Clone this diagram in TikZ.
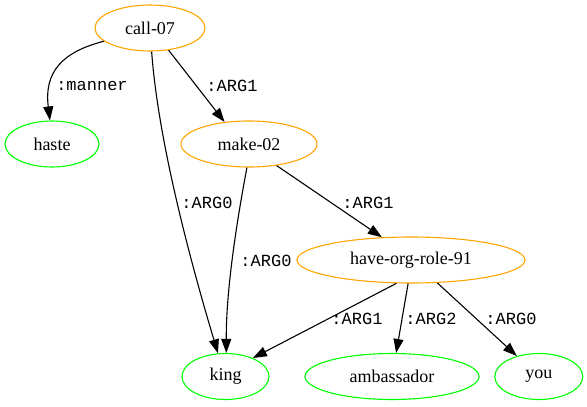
\documentclass[tikz,border=0pt]{standalone}
\usepackage{fontspec}
\setmainfont{Liberation Serif}
\newfontfamily\labelfont{Liberation Mono}
\usetikzlibrary{shapes.geometric,arrows.meta}
\definecolor{gvorange}{RGB}{255,165,0}
\definecolor{gvgreen}{RGB}{0,255,0}
\tikzset{
  concept/.style={ellipse, draw=#1, line width=1.1pt, inner sep=0pt,
    minimum height=46pt, font=\fontsize{18pt}{20pt}\selectfont},
  edge/.style={draw=black, line width=1.1pt,
    -{Triangle[length=14pt,width=10pt]}},
  role/.style={font=\labelfont\fontsize{17pt}{19pt}\selectfont, inner sep=0pt}
}
\begin{document}
\begin{tikzpicture}[x=1pt,y=-1pt]
\useasboundingbox (0,0) rectangle (587,407);

% concepts
\node[concept=gvorange, minimum width=110pt] (call) at (150,28) {call-07};
\node[concept=gvgreen,  minimum width=94pt]  (haste) at (52,144) {haste};
\node[concept=gvorange, minimum width=136pt] (make) at (249,144) {make-02};
\node[concept=gvorange, minimum width=228pt] (have) at (411,260) {have-org-role-91};
\node[concept=gvgreen,  minimum width=87pt]  (king) at (225.5,376.5) {king};
\node[concept=gvgreen,  minimum width=174pt] (amb) at (392,376.5) {ambassador};
\node[concept=gvgreen,  minimum width=88pt]  (you) at (538.8,376.5) {you};

% relations
\draw[edge] (call.196) .. controls (62,52) and (44,72) .. (haste.95);
\draw[edge] (call.-50) -- (make.138);
\draw[edge] (call.-86) .. controls (158,140) and (190,260) .. (king.108);
\draw[edge] (make.-95) .. controls (237,220) and (226,290) .. (king.88);
\draw[edge] (make.-38) -- (have.142);
\draw[edge] (have.-122) -- (king.34);
\draw[edge] (have.-97) -- (amb.80);
\draw[edge] (have.-41) -- (you.137);

% role labels
\node[role] (l1) at (92,86) {:manner};
\node[role] (l2) at (232,86) {:ARG1};
\node[role] (l3) at (207,203) {:ARG0};
\node[role] (l4) at (266,261) {:ARG0};
\node[role] (l5) at (368,203) {:ARG1};
\node[role] (l6) at (357,319) {:ARG1};
\node[role] (l7) at (431,319) {:ARG2};
\node[role] (l8) at (511,319) {:ARG0};
\end{tikzpicture}
\end{document}
